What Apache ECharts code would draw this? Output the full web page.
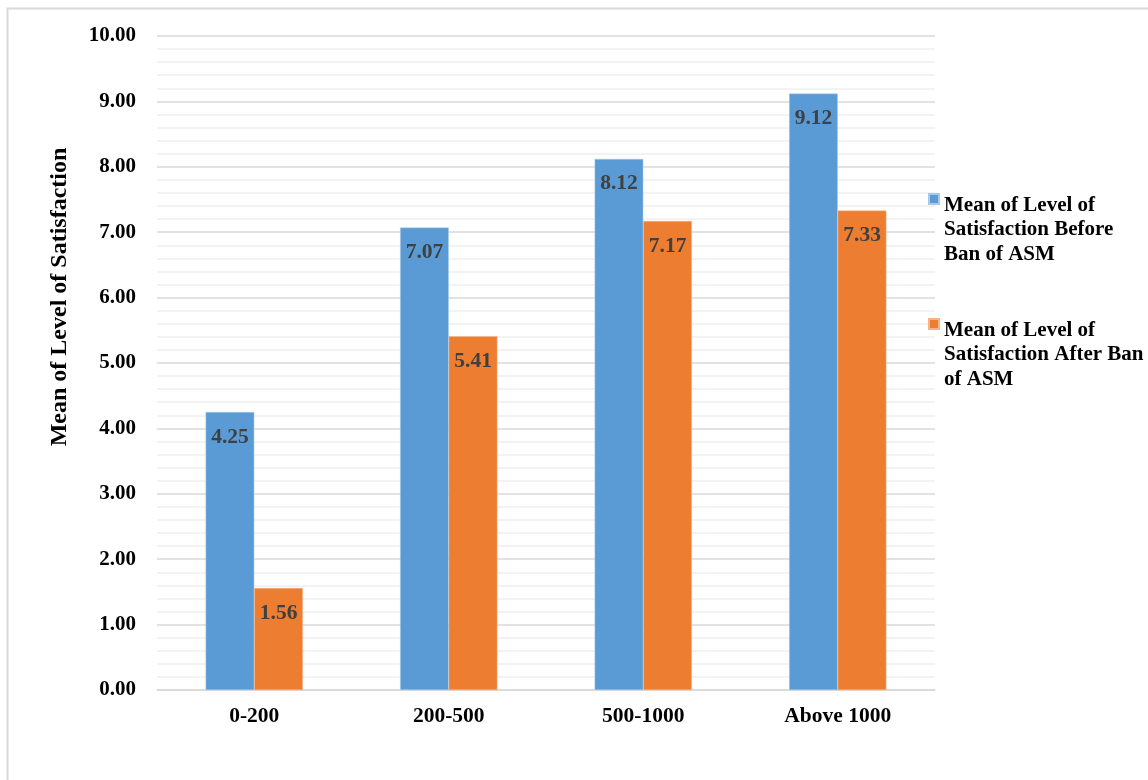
<!DOCTYPE html>
<html>
<head>
<meta charset="utf-8">
<script src="https://cdn.jsdelivr.net/npm/echarts@6/dist/echarts.min.js"></script>
<style>
html,body{margin:0;padding:0;background:#fff;}
#chart{width:1148px;height:780px;}
</style>
</head>
<body>
<div id="chart"></div>
<script>
const categories = ['0-200', '200-500', '500-1000', 'Above 1000'];
const seriesNames = [
  'Mean of Level of\nSatisfaction Before\nBan of ASM',
  'Mean of Level of\nSatisfaction After Ban\nof ASM'
];
const beforeBan = [4.25, 7.07, 8.12, 9.12];
const afterBan = [1.56, 5.41, 7.17, 7.33];
const yAxisName = 'Mean of Level of Satisfaction';

const FONT = '"Liberation Serif", "Times New Roman", serif';
const chart = echarts.init(document.getElementById('chart'));
const labelOpt = {
  show: true,
  position: 'insideTop',
  distance: 14,
  color: '#404040',
  fontFamily: FONT,
  fontWeight: 'bold',
  fontSize: 21.5,
  formatter: p => p.value.toFixed(2)
};
const iconPath = 'path://M0,0h10v10h-10Z M0,72 L0.001,72';
chart.setOption({
  animation: false,
  backgroundColor: '#fff',
  graphic: [{
    type: 'rect',
    shape: { x: 7.5, y: 8.5, width: 1200, height: 800 },
    style: { fill: null, stroke: '#d9d9d9', lineWidth: 2 },
    silent: true
  }],
  grid: { left: 157, top: 36, right: 213, bottom: 90, containLabel: false },
  legend: {
    orient: 'vertical',
    left: 923,
    top: 188,
    itemWidth: 10,
    itemHeight: 73,
    itemGap: 51,
    icon: iconPath,
    textStyle: {
      fontFamily: FONT, fontWeight: 'bold', fontSize: 21, color: '#000',
      lineHeight: 24.5
    },
    data: [
      { name: seriesNames[0], icon: iconPath },
      { name: seriesNames[1], icon: iconPath }
    ]
  },
  xAxis: {
    type: 'category',
    data: categories,
    axisLine: { show: true, lineStyle: { color: '#d9d9d9', width: 1.5 } },
    axisTick: { show: false },
    axisLabel: { fontFamily: FONT, fontWeight: 'bold', fontSize: 21.5, color: '#000', margin: 15 }
  },
  yAxis: {
    type: 'value',
    min: 0, max: 10, interval: 1,
    name: yAxisName,
    nameLocation: 'middle',
    nameGap: 85,
    nameTextStyle: { fontFamily: FONT, fontWeight: 'bold', fontSize: 24, color: '#000',
      padding: [0, 0, 0, 132] },
    axisLine: { show: false },
    axisTick: { show: false },
    axisLabel: { fontFamily: FONT, fontWeight: 'bold', fontSize: 21, color: '#000', margin: 21,
      formatter: v => v.toFixed(2) },
    splitLine: { show: true, lineStyle: { color: '#d9d9d9', width: 1.5 } },
    minorTick: { show: false, splitNumber: 5 },
    minorSplitLine: { show: true, lineStyle: { color: '#efefef', width: 1.5 } }
  },
  series: [
    { name: seriesNames[0], type: 'bar', data: beforeBan, barGap: '0%', barCategoryGap: '50%',
      itemStyle: { color: '#5B9BD5', borderColor: '#a9c8ea', borderWidth: 0.5 }, label: labelOpt },
    { name: seriesNames[1], type: 'bar', data: afterBan, barGap: '0%', barCategoryGap: '50%',
      itemStyle: { color: '#ED7D31', borderColor: '#f5b48a', borderWidth: 0.5 }, label: labelOpt }
  ]
});
</script>
</body>
</html>
